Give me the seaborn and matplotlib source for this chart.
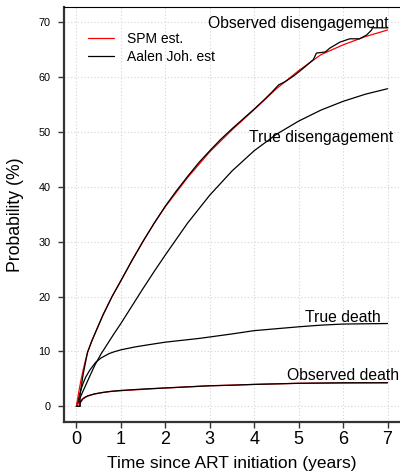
import numpy as np
import pandas as pd
import matplotlib
matplotlib.use("Agg")
import matplotlib.pyplot as plt
from matplotlib.lines import Line2D
import seaborn as sns

# Observed disengagement: Aalen-Johansen estimate (black)
aj_dis_t = [0, 0.08, 0.08, 0.15, 0.25, 0.35, 0.45, 0.6, 0.8, 1.0, 1.25, 1.5, 1.75, 2.0,
            2.25, 2.5, 2.75, 3.0, 3.25, 3.5, 3.75, 4.0, 4.2, 4.4, 4.55, 4.7, 4.9,
            5.1, 5.33, 5.4, 5.6, 5.7, 5.93, 6.15, 6.37, 6.53, 6.64, 6.66, 7.0]
aj_dis_v = [0, 0, 2.0, 5.8, 9.9, 12.0, 13.9, 16.7, 20.0, 22.9, 26.6, 30.1, 33.4, 36.5,
            39.3, 41.9, 44.4, 46.6, 48.7, 50.6, 52.4, 54.2, 55.7, 57.3, 58.6, 59.2, 60.3,
            61.6, 63.2, 64.4, 64.6, 65.3, 66.4, 67.0, 67.0, 67.7, 68.6, 69.0, 69.0]

# Observed disengagement: SPM estimate (red)
spm_dis_t = [0, 0.05, 0.1, 0.15, 0.2, 0.25, 0.35, 0.45, 0.6, 0.8, 1.0, 1.25, 1.5, 1.75,
             2, 2.5, 3, 3.5, 4, 4.5, 5, 5.5, 6, 6.5, 7]
spm_dis_v = [0, 2.5, 4.7, 6.6, 8.3, 9.8, 12.0, 13.9, 16.7, 20.0, 22.9, 26.6, 30.1, 33.4,
             36.4, 41.7, 46.4, 50.4, 54.1, 57.9, 61.2, 64.1, 65.9, 67.4, 68.6]

# True disengagement
true_dis_t = [0, 0.1, 0.2, 0.3, 0.42, 0.55, 0.7, 0.85, 1.0, 1.25, 1.5, 1.75, 2, 2.5, 3,
              3.5, 4, 4.5, 5, 5.5, 6, 6.5, 7]
true_dis_v = [0, 1.9, 3.7, 5.5, 7.6, 9.5, 11.4, 13.3, 15.1, 18.3, 21.5, 24.6, 27.6, 33.4,
              38.5, 42.9, 46.6, 49.6, 52.0, 54.0, 55.6, 56.9, 57.9]

# True death
true_death_t = [0, 0.05, 0.1, 0.15, 0.21, 0.3, 0.43, 0.55, 0.73, 0.85, 1.0, 1.33, 1.6,
                2.0, 2.78, 3.5, 4, 5, 5.5, 6, 7]
true_death_v = [0, 1.6, 3.0, 4.2, 5.35, 6.6, 8.0, 8.8, 9.6, 9.95, 10.3, 10.85, 11.2,
                11.7, 12.4, 13.2, 13.8, 14.5, 14.8, 15.0, 15.1]

# Observed death: SPM estimate (red)
spm_death_t = [0, 0.05, 0.1, 0.15, 0.2, 0.3, 0.4, 0.5, 0.75, 1, 1.5, 2, 3, 4, 5, 6, 7]
spm_death_v = [0, 0.6, 1.1, 1.45, 1.7, 2.0, 2.25, 2.4, 2.7, 2.85, 3.1, 3.35, 3.75, 4.0,
               4.2, 4.25, 4.3]

# Observed death: Aalen-Johansen estimate (black)
aj_death_t = [0, 0.08, 0.08, 0.15, 0.25, 0.4, 0.6, 0.8, 1.0, 1.3, 1.6, 2.0, 2.5, 3.0,
              3.5, 4.0, 4.5, 5.0, 5.5, 6.0, 6.5, 7.0]
aj_death_v = [0, 0, 0.6, 1.4, 1.9, 2.25, 2.55, 2.75, 2.9, 3.05, 3.2, 3.35, 3.55, 3.75,
              3.85, 4.0, 4.1, 4.2, 4.25, 4.3, 4.3, 4.3]

x_ticks = [0, 1, 2, 3, 4, 5, 6, 7]
y_ticks = [0, 10, 20, 30, 40, 50, 60, 70]

sns.set_style("white")
plt.rcParams["font.family"] = ["Liberation Sans", "DejaVu Sans"]
plt.rcParams["text.color"] = "black"
plt.rcParams["axes.labelcolor"] = "black"
plt.rcParams["xtick.color"] = "black"
plt.rcParams["ytick.color"] = "black"

fig = plt.figure(figsize=(4.0, 4.75), dpi=100)
ax = fig.add_axes([0.16, 0.1122, 0.84, 0.8731])

lw = 0.9


def draw(t, v, color):
    df = pd.DataFrame({"t": t, "v": v})
    sns.lineplot(data=df, x="t", y="v", ax=ax, color=color, lw=lw,
                 estimator=None, sort=False, legend=False)


draw(true_dis_t, true_dis_v, "black")
draw(true_death_t, true_death_v, "black")
draw(spm_dis_t, spm_dis_v, "red")
draw(spm_death_t, spm_death_v, "red")
draw(aj_dis_t, aj_dis_v, "black")
draw(aj_death_t, aj_death_v, "black")

ax.set_xlim(-0.28, 7.28)
ax.set_ylim(-2.8, 72.8)
ax.set_xticks(x_ticks)
ax.set_yticks(y_ticks)
ax.set_xticklabels([str(x) for x in x_ticks], fontsize=13)
ax.set_yticklabels([str(y) for y in y_ticks], fontsize=7.8)
ax.tick_params(axis="both", direction="out", length=4.3, width=1, color="#333333",
               left=True, bottom=True)
ax.tick_params(axis="x", pad=2.5)
ax.tick_params(axis="y", pad=5.5)

ax.grid(True, color="#d4d4d4", linestyle=(0, (1, 2)), linewidth=0.8)
ax.set_axisbelow(True)

for side in ("left", "bottom"):
    ax.spines[side].set_linewidth(1.6)
    ax.spines[side].set_color("#333333")
ax.spines["top"].set_linewidth(0.8)
ax.spines["top"].set_color("black")
ax.spines["right"].set_visible(False)

ax.set_xlabel("Time since ART initiation (years)", fontsize=12.5, labelpad=6)
ax.set_ylabel("Probability (%)", fontsize=12.7, labelpad=10)

txt = dict(fontsize=11.3, ha="center", va="baseline")
ax.text(5.0, 69.0, "Observed disengagement", **txt)
ax.text(5.5, 48.2, "True disengagement", **txt)
ax.text(6.0, 15.4, "True death", **txt)
ax.text(6.0, 4.87, "Observed death", **txt)

handles = [Line2D([], [], color="red", lw=lw), Line2D([], [], color="black", lw=lw)]
ax.legend(handles, ["SPM est.", "Aalen Joh. est"], frameon=False, fontsize=10,
          loc="upper left", bbox_to_anchor=(0.22, 0.932), bbox_transform=fig.transFigure,
          borderpad=0, borderaxespad=0, handlelength=1.9, handletextpad=0.9,
          labelspacing=0.25)

fig.savefig("out.png", dpi=100)
